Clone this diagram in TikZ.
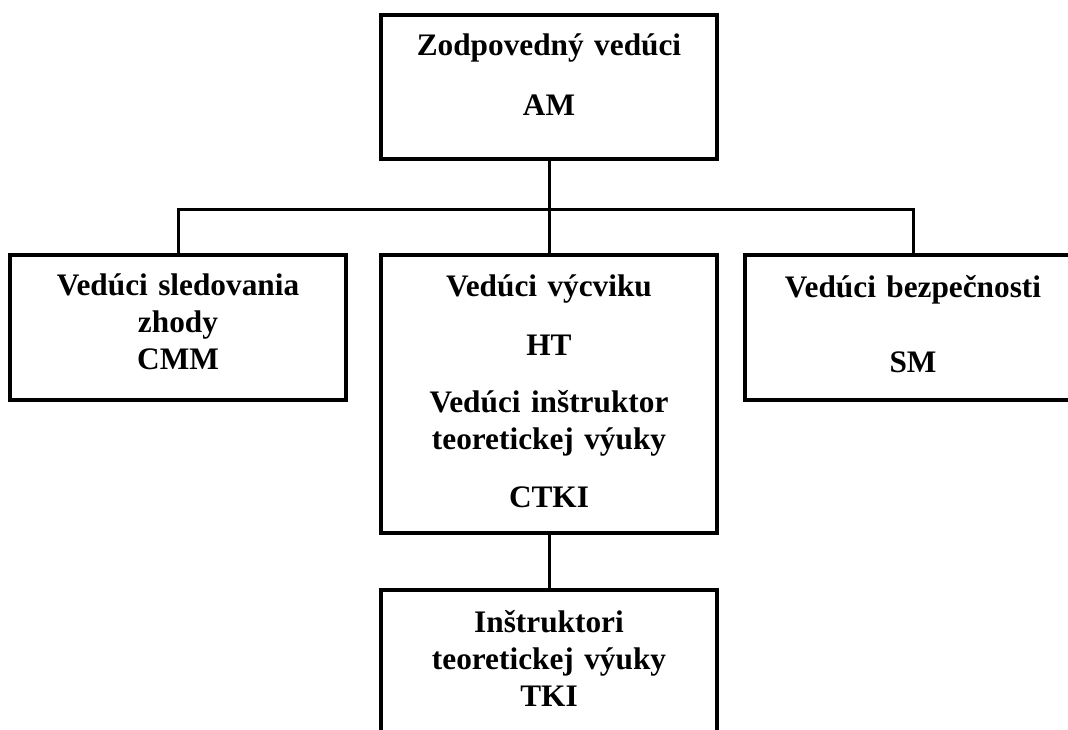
\documentclass[tikz,border=0pt]{standalone}
\usepackage{fontspec}
\setmainfont{Liberation Serif}
\usetikzlibrary{positioning}

\begin{document}
\begin{tikzpicture}[
x=1pt, y=-1pt,
box/.style={
	draw, rectangle, line width=4pt,
	inner sep=0pt, text width=336pt, align=center,
	font=\bfseries\fontsize{31.3}{37}\selectfont
},
link/.style={line width=3pt}
]
\useasboundingbox (0,0) rectangle (1068,729);
\node[box, anchor=north, text height=40pt, text depth=104pt] (am) at (549,13)
	{Zodpovedný vedúci\\[23pt]AM};
\node[box, below=92pt of am, anchor=north, text height=41pt, text depth=237pt] (ht)
	{Vedúci výcviku\\[22pt]HT\\[20pt]Vedúci inštruktor\\teoretickej výuky\\[21pt]CTKI};
\node[box, left=31pt of ht.north west, anchor=north east, text height=40pt, text depth=105pt] (cmm)
	{Vedúci sledovania\\zhody\\CMM};
\node[box, right=24pt of ht.north east, anchor=north west, text height=42pt, text depth=103pt] (sm)
	{Vedúci bezpečnosti\\[38pt]SM};
\node[box, below=53pt of ht, text height=42pt, text depth=103pt] (tki)
	{Inštruktori\\teoretickej výuky\\TKI};
\coordinate[below=48pt of am] (bus);
\draw[link] (am) -- (ht);
\draw[link] (cmm) |- (bus) -| (sm);
\draw[link] (ht) -- (tki);
\end{tikzpicture}
\end{document}
